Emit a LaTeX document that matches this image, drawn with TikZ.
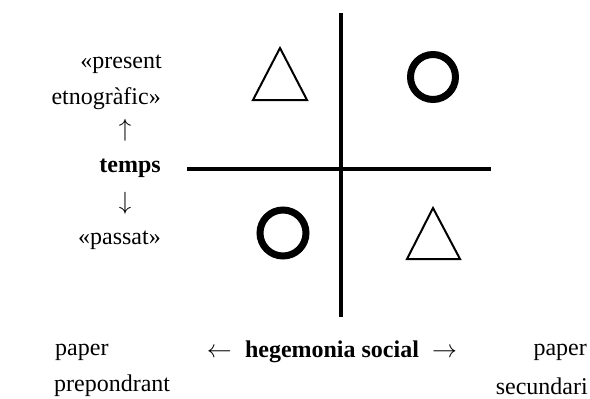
\documentclass[tikz,border=0pt]{standalone}
\usepackage{fontspec}
\setmainfont{Liberation Serif}
\begin{document}
\begin{tikzpicture}[x=1pt,y=-1pt,
  lbl/.style={inner sep=0pt,font=\fontsize{24}{28}\selectfont},
  axis/.style={line width=3.6pt},
  tri/.style={line width=2pt,line join=miter},
  ring/.style={line width=7pt}]
\useasboundingbox (0,0) rectangle (590,399);
% axes
\coordinate (vt) at (341,13);
\coordinate (vb) at (341,317);
\coordinate (hl) at (187,169);
\coordinate (hr) at (491,169);
\draw[axis] (vt) -- (vb);
\draw[axis] (hl) -- (hr);
% shapes
\draw[tri] (280,48) -- (307,100) -- (253,100) -- cycle;
\draw[tri] (433,208) -- (460,259) -- (407,259) -- cycle;
\draw[ring] (433,77) circle (22.5);
\draw[ring] (283,233) circle (23);
% left labels
\node[lbl,anchor=east] (pres) at (162,64) {«present};
\node[lbl,anchor=east] (etno) at (161,99) {etnogràfic»};
\node[lbl] (up) at (125,130) {$\uparrow$};
\node[lbl,anchor=east] (temps) at (161,168) {\textbf{temps}};
\node[lbl] (down) at (125,203) {$\downarrow$};
\node[lbl,anchor=east] (pass) at (161,240) {«passat»};
% bottom labels
\node[lbl,anchor=west] (pap1) at (55,352) {paper};
\node[lbl,anchor=west] (prep) at (54,386) {prepondrant};
\node[lbl] (heg) at (332,352) {$\leftarrow$\hspace{0.55em}\textbf{hegemonia social}\hspace{0.55em}$\rightarrow$};
\node[lbl,anchor=east] (pap2) at (587,352) {paper};
\node[lbl,anchor=east] (sec) at (588,386) {secundari};
\end{tikzpicture}
\end{document}
